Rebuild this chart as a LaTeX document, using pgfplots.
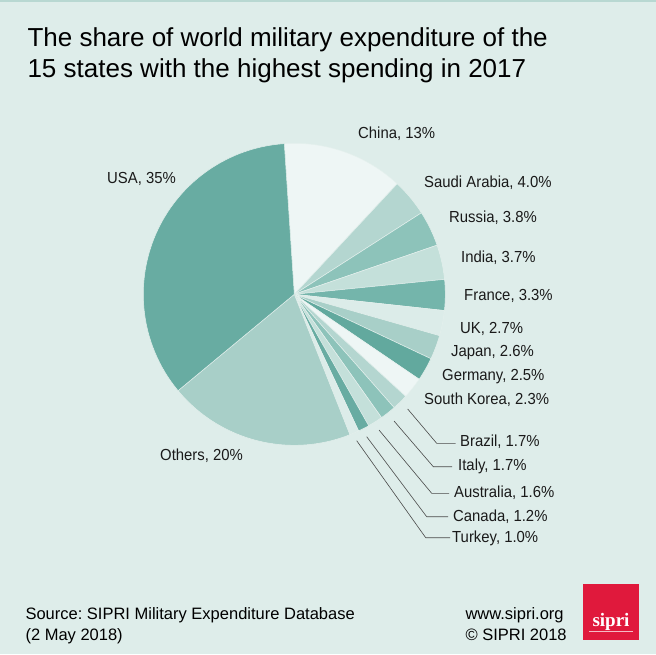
\documentclass[border=0pt]{standalone}
\usepackage{pgfplots}
\pgfplotsset{compat=1.18}
\usepackage{fontspec}
\setmainfont{Liberation Sans}
\newfontfamily\labelfont[FakeStretch=0.93]{Liberation Sans}
\newfontfamily\logofont{Liberation Serif}
\frenchspacing
\definecolor{bg}{HTML}{DEEDEA}
\definecolor{edge}{HTML}{E4F0ED}
\definecolor{cUSA}{HTML}{68ACA2}
\definecolor{cWhite}{HTML}{EEF6F5}
\definecolor{cLight}{HTML}{B4D6D0}
\definecolor{cMed}{HTML}{8DC3BA}
\definecolor{cPale}{HTML}{C4E0DA}
\definecolor{cMedDark}{HTML}{74B5AB}
\definecolor{cVPale}{HTML}{DCECE9}
\definecolor{cLM}{HTML}{A8CFC8}
\definecolor{cDark}{HTML}{62A99E}
\definecolor{txt}{HTML}{1A1A1A}
\definecolor{lead}{HTML}{4A4A4A}
\definecolor{sipred}{HTML}{E0193C}

% shares (per cent), clockwise from the top
\def\sChina{13}\def\sSaudi{4.0}\def\sRussia{3.8}\def\sIndia{3.7}
\def\sFrance{3.3}\def\sUK{2.7}\def\sJapan{2.6}\def\sGermany{2.5}
\def\sKorea{2.3}\def\sBrazil{1.7}\def\sItaly{1.7}\def\sAustralia{1.6}
\def\sCanada{1.2}\def\sTurkey{1.0}\def\sOthers{20}\def\sUSA{35}

\def\cx{294.3}\def\cy{294.3}\def\R{151}
\pgfmathsetmacro\k{360/100.1}
\pgfmathsetmacro\aA{93.8}
\pgfmathsetmacro\aB{\aA-\sChina*\k}
\pgfmathsetmacro\aC{\aB-\sSaudi*\k}
\pgfmathsetmacro\aD{\aC-\sRussia*\k}
\pgfmathsetmacro\aE{\aD-\sIndia*\k}
\pgfmathsetmacro\aF{\aE-\sFrance*\k}
\pgfmathsetmacro\aG{\aF-\sUK*\k}
\pgfmathsetmacro\aH{\aG-\sJapan*\k}
\pgfmathsetmacro\aI{\aH-\sGermany*\k}
\pgfmathsetmacro\aJ{\aI-\sKorea*\k}
\pgfmathsetmacro\aK{\aJ-\sBrazil*\k}
\pgfmathsetmacro\aL{\aK-\sItaly*\k}
\pgfmathsetmacro\aM{\aL-\sAustralia*\k}
\pgfmathsetmacro\aN{\aM-\sCanada*\k}
\pgfmathsetmacro\aO{\aN-\sTurkey*\k}
\pgfmathsetmacro\aP{\aO-\sOthers*\k}
\pgfmathsetmacro\aQ{\aA-360}

\newcommand\slice[3]{%
  \addplot[fill=#3, draw=edge, line width=0.5pt, domain=#2:#1, samples=60, variable=\t]
    ({\cx+\R*cos(\t)},{\cy-\R*sin(\t)}) -- (axis cs:\cx,\cy) -- cycle;}

\begin{document}
\begin{tikzpicture}
\useasboundingbox (0,0) rectangle (656pt,654pt);
\fill[bg] (0,0) rectangle (656pt,654pt);
\fill[cLM!70!bg] (0,652pt) rectangle (656pt,654pt);
\begin{axis}[
  at={(0,0)}, anchor=south west,
  hide axis, scale only axis,
  width=656pt, height=654pt,
  xmin=0, xmax=656, ymin=0, ymax=654,
  y dir=reverse, clip=false,
  every node/.append style={text=txt, inner sep=0pt},
]
\slice{\aA}{\aB}{cWhite}
\slice{\aB}{\aC}{cLight}
\slice{\aC}{\aD}{cMed}
\slice{\aD}{\aE}{cPale}
\slice{\aE}{\aF}{cMedDark}
\slice{\aF}{\aG}{cVPale}
\slice{\aG}{\aH}{cLM}
\slice{\aH}{\aI}{cDark}
\slice{\aI}{\aJ}{cWhite}
\slice{\aJ}{\aK}{cLight}
\slice{\aK}{\aL}{cMed}
\slice{\aL}{\aM}{cPale}
\slice{\aM}{\aN}{cUSA}
\slice{\aN}{\aO}{cVPale}
\slice{\aO}{\aP}{cLM}
\slice{\aP}{\aQ}{cUSA}

% leader lines
\addplot[lead, line width=0.6pt] coordinates {(407.7,409) (436.7,443.3) (455.7,443.3)};
\addplot[lead, line width=0.6pt] coordinates {(394,421) (433.3,466.7) (452,466.7)};
\addplot[lead, line width=0.6pt] coordinates {(379,430) (431.7,493.3) (449,493.3)};
\addplot[lead, line width=0.6pt] coordinates {(366.7,436.7) (426.7,516.7) (448,516.7)};
\addplot[lead, line width=0.6pt] coordinates {(356.7,440.7) (425.7,537.7) (450,537.7)};

% labels
\begin{scope}[every node/.style={anchor=west, font=\labelfont\fontsize{16}{19}\selectfont, text=txt, inner sep=0pt}]
\node at (axis cs:358,134) {China, 13\%};
\node at (axis cs:424,183) {Saudi Arabia, 4.0\%};
\node at (axis cs:449,218) {Russia, 3.8\%};
\node at (axis cs:461,258) {India, 3.7\%};
\node at (axis cs:464,296) {France, 3.3\%};
\node at (axis cs:460,329) {UK, 2.7\%};
\node at (axis cs:451,353) {Japan, 2.6\%};
\node at (axis cs:442,377) {Germany, 2.5\%};
\node at (axis cs:424,400) {South Korea, 2.3\%};
\node at (axis cs:460,442) {Brazil, 1.7\%};
\node at (axis cs:458,466) {Italy, 1.7\%};
\node at (axis cs:454,493) {Australia, 1.6\%};
\node at (axis cs:453,517) {Canada, 1.2\%};
\node at (axis cs:452,538) {Turkey, 1.0\%};
\node at (axis cs:107,179) {USA, 35\%};
\node at (axis cs:160,456) {Others, 20\%};
\end{scope}

% title
\node[anchor=base west, font=\fontsize{26}{31}\selectfont] at (axis cs:24,46) {The share of world military expenditure of the};
\node[anchor=base west, font=\fontsize{26}{31}\selectfont] at (axis cs:24,77) {15 states with the highest spending in 2017};

% footer
\node[anchor=base west, font=\fontsize{16.5}{20}\selectfont] at (axis cs:22,619) {Source: SIPRI Military Expenditure Database};
\node[anchor=base west, font=\fontsize{16.5}{20}\selectfont] at (axis cs:22,640) {(2 May 2018)};
\node[anchor=base west, font=\fontsize{16.5}{20}\selectfont] at (axis cs:462,619) {www.sipri.org};
\node[anchor=base west, font=\fontsize{16.5}{20}\selectfont] at (axis cs:462,640) {\textcopyright{} SIPRI 2018};

% logo
\fill[sipred] (axis cs:582.7,584.3) rectangle (axis cs:639.3,640);
\node[anchor=base, text=white, font=\logofont\bfseries\fontsize{19}{22}\selectfont] at (axis cs:611,626) {sipri};
\draw[white, opacity=0.7, line width=0.4pt] (axis cs:589,631) -- (axis cs:633,631);
\end{axis}
\end{tikzpicture}
\end{document}
